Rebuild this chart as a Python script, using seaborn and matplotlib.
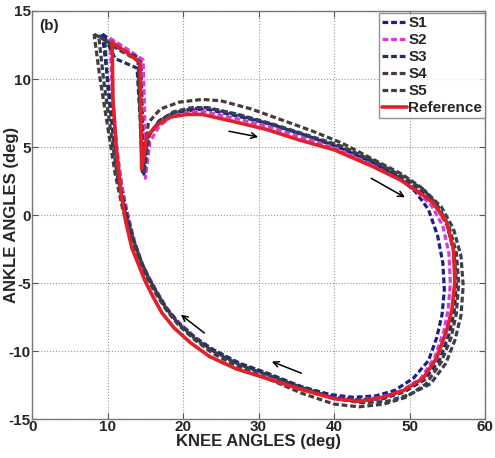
import numpy as np
import pandas as pd
import seaborn as sns
import matplotlib
matplotlib.use("Agg")
import matplotlib.pyplot as plt

# ---- data (knee angle, ankle angle in deg) ----
ref_knee = [10.6, 12.4, 14.3, 14.4, 14.5, 15.2, 16.5, 18.3, 20.5, 22.5, 26.5, 31.0, 35.5, 40.0, 45.0,
            48.7, 51.2, 53.1, 54.9, 55.8, 56.0, 55.6, 54.9, 53.6, 51.8, 49.2, 46.5, 43.4, 40.0, 35.5,
            31.0, 27.0, 23.5, 21.0, 18.8, 17.2, 16.0, 15.0, 14.2, 13.2, 12.4, 11.8, 11.2, 10.7, 10.6]
ref_ankle = [12.7, 12.0, 11.2, 7.5, 3.4, 5.8, 6.6, 7.2, 7.4, 7.4, 6.9, 6.3, 5.5, 4.8, 3.6,
             2.6, 1.7, 0.9, -0.5, -2.5, -4.9, -7.0, -8.5, -10.5, -12.0, -12.9, -13.4, -13.7, -13.5, -12.8,
             -12.0, -11.3, -10.4, -9.4, -8.3, -7.2, -6.0, -4.9, -3.8, -2.4, -0.5, 1.5, 4.5, 8.5, 12.7]

s1_knee = [9.3, 11.8, 14.4, 14.6, 14.8, 15.4, 16.8, 18.6, 21.0, 23.0, 27.0, 31.5, 36.0, 40.5, 45.0,
           48.5, 50.8, 52.5, 53.7, 54.4, 54.6, 54.3, 53.6, 52.5, 50.5, 48.0, 45.5, 42.5, 39.5, 35.5,
           31.5, 27.5, 24.0, 21.6, 19.4, 17.7, 16.4, 15.3, 14.4, 13.3, 12.4, 11.6, 10.8, 10.0, 9.3]
s1_ankle = [13.3, 12.3, 11.4, 7.5, 3.0, 5.8, 6.9, 7.5, 7.7, 7.8, 7.3, 6.7, 5.9, 5.0, 3.9,
            2.8, 1.7, 0.4, -1.5, -3.5, -5.5, -7.3, -9.0, -10.7, -12.0, -12.9, -13.3, -13.4, -13.2, -12.6,
            -11.7, -10.9, -9.9, -9.0, -7.9, -6.8, -5.6, -4.5, -3.4, -1.6, 0.5, 3.0, 6.5, 10.0, 13.3]

s2_knee = [10.3, 12.6, 14.7, 14.9, 15.0, 15.6, 16.8, 18.5, 20.8, 22.8, 27.0, 31.3, 35.8, 40.2, 45.0,
           48.6, 51.0, 52.9, 54.4, 55.2, 55.4, 55.1, 54.5, 53.3, 51.5, 49.0, 46.3, 43.3, 40.0, 35.7,
           31.4, 27.5, 24.0, 21.6, 19.4, 17.8, 16.5, 15.5, 14.6, 13.6, 12.7, 11.9, 11.2, 10.6, 10.3]
s2_ankle = [13.0, 12.2, 11.4, 7.5, 2.7, 5.4, 6.5, 7.3, 7.6, 7.6, 7.1, 6.5, 5.7, 4.9, 3.7,
            2.7, 1.7, 0.7, -0.8, -2.8, -5.0, -7.0, -8.6, -10.5, -12.0, -12.9, -13.4, -13.6, -13.4, -12.7,
            -11.8, -11.0, -10.0, -9.0, -7.9, -6.8, -5.6, -4.6, -3.6, -2.0, 0.0, 2.0, 5.0, 9.0, 13.0]

s3_knee = [9.6, 11.0, 13.9, 14.3, 14.6, 15.3, 16.8, 18.6, 21.0, 23.0, 27.0, 31.5, 36.0, 40.5, 45.2,
           48.8, 51.4, 53.4, 55.0, 55.9, 56.2, 55.9, 55.2, 54.0, 52.0, 49.3, 46.5, 43.3, 40.0, 35.6,
           31.3, 27.3, 23.8, 21.5, 19.3, 17.7, 16.4, 15.3, 14.4, 13.4, 12.4, 11.5, 10.7, 10.0, 9.6]
s3_ankle = [13.1, 11.5, 10.8, 7.0, 3.0, 5.7, 6.9, 7.5, 7.8, 7.9, 7.4, 6.7, 5.9, 5.1, 3.9,
            2.8, 1.8, 0.8, -0.8, -2.8, -5.0, -7.1, -8.8, -10.6, -12.1, -13.0, -13.5, -13.6, -13.4, -12.6,
            -11.7, -10.9, -9.9, -9.0, -7.9, -6.8, -5.6, -4.5, -3.4, -1.8, 0.3, 2.5, 6.0, 9.5, 13.1]

s4_knee = [8.2, 11.0, 14.0, 14.3, 14.6, 15.4, 17.0, 19.5, 22.5, 25.0, 29.0, 33.0, 37.0, 41.0, 45.5,
           49.0, 51.6, 53.6, 55.2, 56.2, 56.5, 56.2, 55.5, 54.2, 52.2, 49.5, 46.6, 43.3, 40.0, 35.7,
           31.5, 27.5, 24.0, 21.6, 19.4, 17.8, 16.4, 15.3, 14.4, 13.2, 12.0, 11.0, 10.0, 9.0, 8.2]
s4_ankle = [13.3, 12.4, 11.6, 7.5, 3.2, 6.8, 7.8, 8.3, 8.5, 8.4, 7.8, 7.0, 6.2, 5.3, 4.0,
            3.0, 2.0, 0.8, -0.8, -2.8, -5.0, -7.2, -9.0, -10.8, -12.4, -13.4, -13.9, -14.1, -13.9, -13.1,
            -12.1, -11.2, -10.2, -9.2, -8.1, -7.0, -5.8, -4.7, -3.6, -1.8, 0.4, 3.0, 6.5, 10.0, 13.3]

s5_knee = [8.8, 11.3, 14.2, 14.5, 14.8, 15.5, 17.0, 18.8, 21.2, 23.2, 27.3, 31.8, 36.3, 40.8, 45.5,
           49.2, 52.0, 54.2, 55.8, 56.8, 57.1, 56.8, 56.0, 54.8, 52.8, 50.0, 47.0, 43.6, 40.2, 35.8,
           31.4, 27.4, 23.9, 21.6, 19.4, 17.8, 16.5, 15.4, 14.5, 13.4, 12.3, 11.3, 10.4, 9.5, 8.8]
s5_ankle = [13.2, 12.2, 11.3, 7.4, 3.0, 5.9, 7.0, 7.6, 7.9, 7.9, 7.4, 6.7, 5.9, 5.1, 3.9,
            2.8, 1.8, 0.6, -1.0, -3.0, -5.2, -7.4, -9.2, -10.9, -12.4, -13.2, -13.7, -13.8, -13.5, -12.7,
            -11.8, -11.0, -10.0, -9.1, -8.0, -6.9, -5.7, -4.6, -3.5, -1.8, 0.3, 2.8, 6.2, 9.8, 13.2]

labels = ['S1', 'S2', 'S3', 'S4', 'S5', 'Reference']
colors = ['#1c1c8c', '#d83cd8', '#22305c', '#4a3a3a', '#34424e', '#e0202a']
series = [(s1_knee, s1_ankle), (s2_knee, s2_ankle), (s3_knee, s3_ankle),
          (s4_knee, s4_ankle), (s5_knee, s5_ankle), (ref_knee, ref_ankle)]

# direction arrows (tail -> head)
arrows = [((25.7, 6.2), (30.3, 5.7)),
          ((44.6, 2.8), (49.7, 1.2)),
          ((36.0, -11.7), (31.4, -10.7)),
          ((23.1, -8.8), (19.4, -7.2))]

xticks = [0, 10, 20, 30, 40, 50, 60]
yticks = [-15, -10, -5, 0, 5, 10, 15]

# ---- plot ----
sns.set_style("white")
FONT = ['Liberation Sans', 'DejaVu Sans']
plt.rcParams['font.family'] = FONT

fig = plt.figure(figsize=(4.95, 4.58), dpi=100)
ax = fig.add_axes([0.065, 0.085, 0.915, 0.891])

for (kx, ay), lab, c in zip(series, labels, colors):
    df = pd.DataFrame({'knee': kx, 'ankle': ay})
    if lab == 'Reference':
        sns.lineplot(data=df, x='knee', y='ankle', sort=False, estimator=None,
                     color=c, linewidth=2.6, label=lab, ax=ax)
    else:
        sns.lineplot(data=df, x='knee', y='ankle', sort=False, estimator=None,
                     color=c, linewidth=2.3, label=lab, ax=ax)
        ax.lines[-1].set_dashes((1.8, 0.9))

for tail, head in arrows:
    ax.annotate('', xy=head, xytext=tail,
                arrowprops=dict(arrowstyle='->', color='black', lw=1.1))

ax.set_xlim(0, 60)
ax.set_ylim(-15, 15)
ax.set_xticks(xticks)
ax.set_yticks(yticks)
ax.set_xticklabels([str(t) for t in xticks], fontweight='bold', fontsize=11)
ax.set_yticklabels([str(t) for t in yticks], fontweight='bold', fontsize=11)
ax.tick_params(direction='in', length=4, width=0.8, color='#555555', pad=1,
               top=True, right=True, bottom=True, left=True)
ax.grid(True, linestyle=':', color='#999999', linewidth=0.8)
for sp in ax.spines.values():
    sp.set_color('#777777')
    sp.set_linewidth(1.0)

ax.set_xlabel('KNEE ANGLES (deg)', fontweight='bold', fontsize=12, labelpad=0)
ax.set_ylabel('ANKLE ANGLES (deg)', fontweight='bold', fontsize=12)
ax.yaxis.set_label_coords(-0.03, 0.5)
ax.text(0.9, 13.9, '(b)', fontweight='bold', fontsize=11, va='center')

leg = ax.legend(loc='upper right', bbox_to_anchor=(1.0, 0.995), frameon=True, fancybox=False,
                prop={'weight': 'bold', 'size': 11},
                handlelength=1.6, handletextpad=0.1, labelspacing=0.2, borderpad=0.2,
                borderaxespad=0.0)
leg.get_frame().set_edgecolor('#777777')
leg.get_frame().set_linewidth(1.0)

fig.savefig('out.png', dpi=100)
